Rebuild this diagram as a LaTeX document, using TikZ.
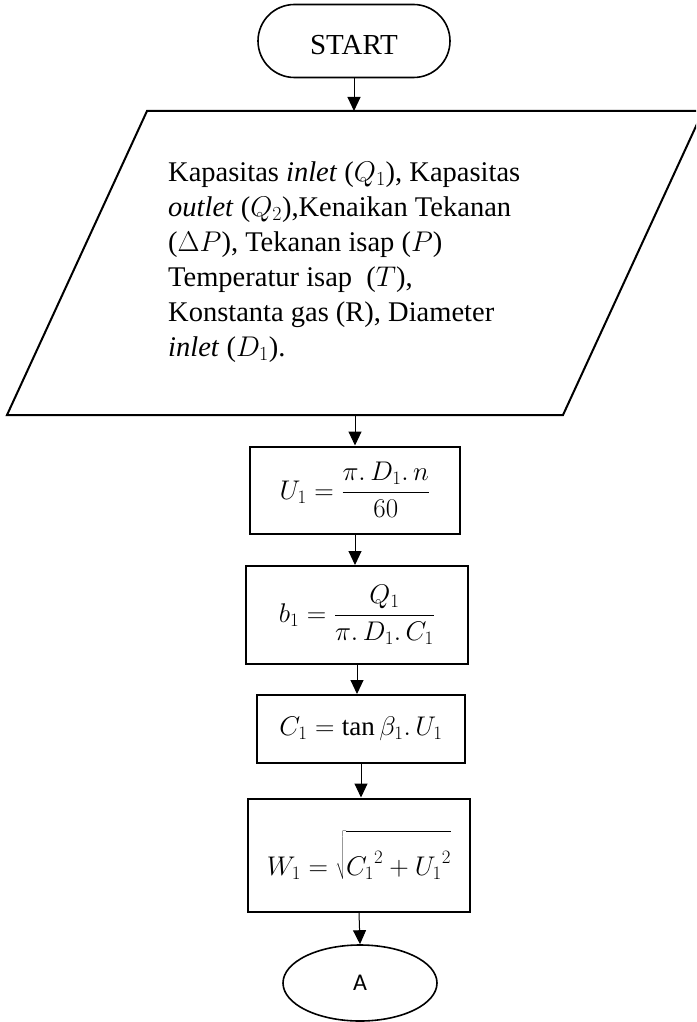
\RequirePackage{fix-cm}
\documentclass[tikz,border=0pt]{standalone}
\usepackage{fontspec}
\setmainfont{Liberation Serif}
\newfontfamily\labelfont{Carlito}
\usetikzlibrary{shapes.misc,shapes.geometric,arrows.meta}
\tikzset{
  flow/.style={-{Triangle[length=14pt,width=13pt]}, line width=1pt},
  procbox/.style={draw, line width=2pt, rectangle, inner sep=0pt,
    font=\fontsize{27}{32}\selectfont},
  termbox/.style={draw, line width=1.6pt, rounded rectangle, inner sep=0pt,
    font=\fontsize{29}{35}\selectfont},
  connbox/.style={draw, line width=1.6pt, ellipse, inner sep=0pt,
    font=\labelfont\fontsize{24}{28}\selectfont},
  iobox/.style={line width=2pt, line join=miter}
}
\begin{document}
\begin{tikzpicture}[x=1pt,y=-1pt]
\useasboundingbox (0,0) rectangle (696,1022);
\clip (0,0) rectangle (696,1022);

% start terminal
\node[termbox, minimum width=192pt, minimum height=73pt, text height=27pt]
  (start) at (354,41) {START};

% input parallelogram
\coordinate (pTL) at (147,111);
\coordinate (pTR) at (703,111);
\coordinate (pBR) at (563,415);
\coordinate (pBL) at (7,415);
\draw[iobox] (pTL) -- (pTR) -- (pBR) -- (pBL) -- cycle;
\coordinate (pin) at (354,111);
\coordinate (pout) at (355,415);
\node[anchor=base west, inner sep=0pt, align=left,
      font=\fontsize{28.5}{35}\selectfont] (input) at (168,356)
  {Kapasitas \textit{inlet} ($Q_1$), Kapasitas\\
   \textit{outlet} ($Q_2$),Kenaikan Tekanan\\
   ($\Delta P$), Tekanan isap ($P$)\\
   Temperatur isap~ ($T$),\\
   Konstanta gas (R), Diameter\\
   \textit{inlet} ($D_1$).};

% process steps
\node[procbox, minimum width=210pt, minimum height=87pt] (u1) at (355,490)
  {$\displaystyle U_1 = \frac{\pi.\,D_1.\,n}{60}$};
\node[procbox, minimum width=222pt, minimum height=98pt] (b1) at (357,615)
  {$\displaystyle b_1 = \frac{Q_1}{\pi.\,D_1.\,C_1}$};
\node[procbox, minimum width=208pt, minimum height=68pt] (c1) at (361,729)
  {$\displaystyle C_1 = \tan\beta_1.\,U_1$};
\node[procbox, minimum width=222pt, minimum height=113pt] (w1) at (359,855)
  {$\displaystyle W_1 = \sqrt{\rule[-4pt]{0pt}{44pt}{C_1}^{2} + {U_1}^{2}}$};

% off-page connector
\node[connbox, minimum width=154pt, minimum height=76pt] (conA) at (360,983) {A};

% connectors
\draw[flow] (start.south) -- (pin);
\draw[flow] (pout) -- (pout |- u1.north);
\draw[flow] (u1.south) -- (u1.south |- b1.north);
\draw[flow] (b1.south) -- (b1.south |- c1.north);
\draw[flow] (c1.south) -- (c1.south |- w1.north);
\draw[flow] (w1.south) -- (conA.north);
\end{tikzpicture}
\end{document}
